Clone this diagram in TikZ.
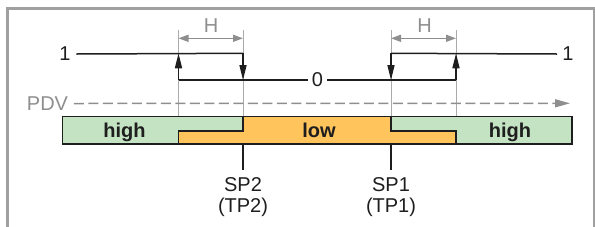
\documentclass[tikz,border=0pt]{standalone}
\usepackage{fontspec}
\setmainfont{Liberation Sans}
\usetikzlibrary{arrows.meta}
\definecolor{framegray}{HTML}{A0A0A0}
\definecolor{guidegray}{HTML}{ABABAB}
\definecolor{txtgray}{HTML}{8E8E8E}
\definecolor{hiGreen}{HTML}{C4E3C2}
\definecolor{loOrange}{HTML}{FFC45C}
\definecolor{ink}{HTML}{1E1E1E}
\begin{document}
\begin{tikzpicture}[x=1pt,y=-1pt,
  lbl/.style={font=\fontsize{20}{24}\selectfont, text=ink, inner sep=0pt},
  glbl/.style={lbl, text=txtgray},
  blbl/.style={font=\fontsize{20}{24}\selectfont\bfseries, text=ink, inner sep=0pt, anchor=base},
  sig/.style={draw=ink, line width=1.5pt},
  sigarr/.style={sig, -{Triangle[length=15pt,width=7pt]}},
  guide/.style={draw=guidegray, line width=0.9pt},
  harr/.style={draw=txtgray, line width=1.5pt, {Triangle[length=10pt,width=7pt]}-{Triangle[length=10pt,width=7pt]}},
  pdvline/.style={draw=txtgray, line width=1.5pt, dash pattern=on 10pt off 4.5pt, -{Triangle[length=15pt,width=8pt]}},
  barline/.style={draw=ink, line width=1.5pt},
]
\useasboundingbox (0,0) rectangle (595,226);
% frame
\draw[framegray, line width=2.5pt] (7.3,232) -- (7.3,8.7) -- (594.2,8.7) -- (594.2,232);

% key coordinates
\coordinate (aL) at (178.5,53.3);
\coordinate (bL) at (243,53.3);
\coordinate (aR) at (391,53.3);
\coordinate (bR) at (456,53.3);
\coordinate (aL0) at (178.5,80);
\coordinate (bL0) at (243,80);
\coordinate (aR0) at (391,80);
\coordinate (bR0) at (456,80);

% bar fills
\fill[hiGreen] (62.7,116.5) -- (243,116.5) -- (243,131) -- (178.5,131) -- (178.5,144) -- (62.7,144) -- cycle;
\fill[loOrange] (178.5,131) -- (243,131) -- (243,116.5) -- (391,116.5) -- (391,131) -- (456,131) -- (456,144) -- (178.5,144) -- cycle;
\fill[hiGreen] (391,116.5) -- (572,116.5) -- (572,144) -- (456,144) -- (456,131) -- (391,131) -- cycle;

% guides
\draw[guide] (178.5,30) -- (178.5,116.5);
\draw[guide] (243,30) -- (243,116.5);
\draw[guide] (391,30) -- (391,116.5);
\draw[guide] (456,30) -- (456,116.5);

% bar outline
\draw[barline] (62.7,116.5) rectangle (572,144);
\draw[barline] (243,116.5) -- (243,131) -- (178.5,131) -- (178.5,144);
\draw[barline] (391,116.5) -- (391,131) -- (456,131) -- (456,144);

% H arrows
\draw[harr] (178.5,38.3) -- (243,38.3);
\draw[harr] (391,38.3) -- (456,38.3);
\node[glbl] (hL) at (211,26) {H};
\node[glbl] (hR) at (424.5,26) {H};

% labels
\node[lbl] (oneL) at (65,54) {1};
\node[lbl] (oneR) at (568,54) {1};
\node[lbl] (zero) at (317.5,80) {0};
\node[glbl] (pdv) at (47.5,103.5) {PDV};

% signal
\draw[sig] ([xshift=5.5pt]oneL.east) -- (bL);
\draw[sigarr] (bL) -- (bL0);
\draw[sigarr] (aL0) -- (aL);
\draw[sig] (aL0) -- ([xshift=-3.5pt]zero.west);
\draw[sig] ([xshift=3.5pt]zero.east) -- (bR0);
\draw[sig] (aR) -- ([xshift=-5pt]oneR.west);
\draw[sigarr] (aR) -- (aR0);
\draw[sigarr] (bR0) -- (bR);

% PDV axis
\coordinate (pdvEnd) at (570,103.3);
\draw[pdvline] ([xshift=5.5pt]pdv.east) -- (pdvEnd);

% bar texts
\node[blbl] (hiL) at (124.5,137) {high};
\node[blbl] (lo) at (319,137) {low};
\node[blbl] (hiR) at (510,137) {high};

% set points
\coordinate (sp2top) at (243,144);
\coordinate (sp1top) at (391,144);
\node[lbl, anchor=base] (sp2) at (243,191.7) {SP2};
\node[lbl, anchor=base] (tp2) at (243,212.5) {(TP2)};
\node[lbl, anchor=base] (sp1) at (391,191.7) {SP1};
\node[lbl, anchor=base] (tp1) at (391,212.5) {(TP1)};
\draw[sig] (sp2top) -- (243,170);
\draw[sig] (sp1top) -- (391,170);
\end{tikzpicture}
\end{document}
